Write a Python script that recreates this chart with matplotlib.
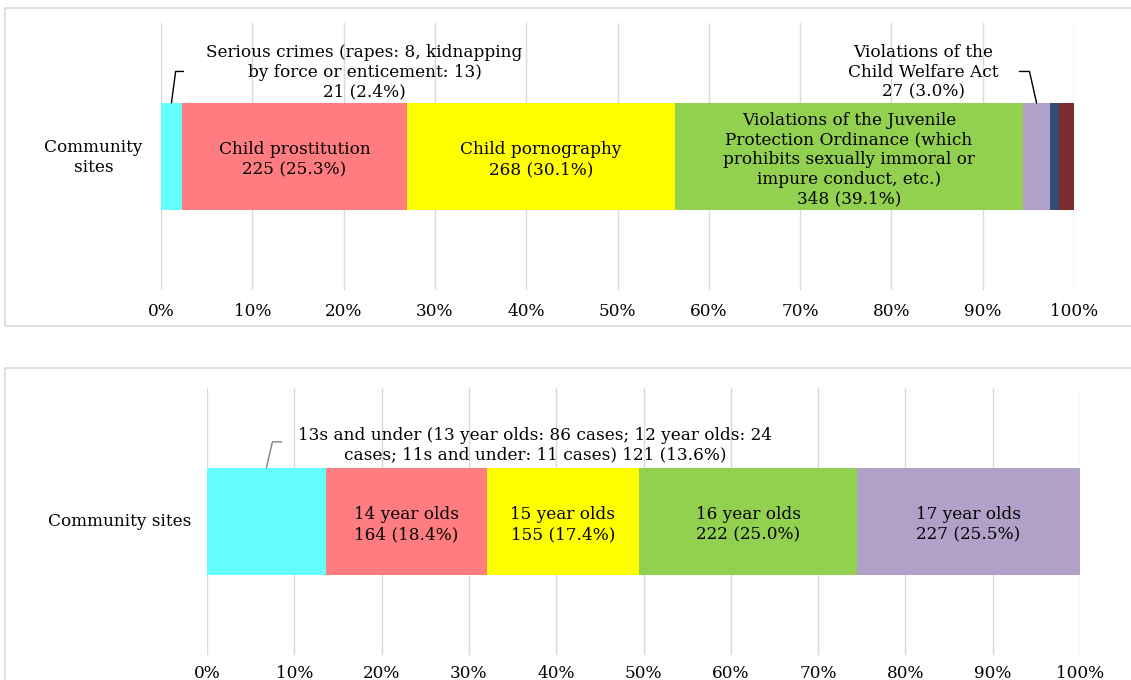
import matplotlib.pyplot as plt
from matplotlib.patches import Rectangle

plt.rcParams['font.family'] = ['DejaVu Serif']

# Top chart: offence types on community sites (counts)
offence_counts = [21, 225, 268, 348, 27, 9, 15]
offence_labels = ['', 'Child prostitution\n225 (25.3%)', 'Child pornography\n268 (30.1%)',
                  'Violations of the Juvenile\nProtection Ordinance (which\nprohibits sexually immoral or\n'
                  'impure conduct, etc.)\n348 (39.1%)', '', '', '']
offence_colors = ['#66FFFF', '#FF7C80', '#FFFF00', '#92D050', '#B1A0C7', '#2E4D77', '#7B2C2C']

# Bottom chart: victim ages
age_counts = [121, 164, 155, 222, 227]
age_labels = ['', '14 year olds\n164 (18.4%)', '15 year olds\n155 (17.4%)',
              '16 year olds\n222 (25.0%)', '17 year olds\n227 (25.5%)']
age_colors = ['#66FFFF', '#FF7C80', '#FFFF00', '#92D050', '#B1A0C7']

ticks = list(range(0, 101, 10))
tick_labels = [f'{t}%' for t in ticks]

W, H = 1131, 680
fig = plt.figure(figsize=(W / 100, H / 100), dpi=100)


def px_axes(x0, y0, x1, y1):
    # pixel box (top-left origin) -> figure axes
    return fig.add_axes([x0 / W, 1 - y1 / H, (x1 - x0) / W, (y1 - y0) / H])


# panel frames
for (x0, y0, x1, y1) in [(5, 8, 1140, 326), (5, 368, 1140, 700)]:
    fig.patches.append(Rectangle((x0 / W, 1 - y1 / H), (x1 - x0) / W, (y1 - y0) / H,
                                 transform=fig.transFigure, fill=False,
                                 edgecolor='#D9D9D9', linewidth=1.2))

FS = 12.2
LS = 1.2


def stacked(ax, counts, labels, colors, pad):
    total = sum(counts)
    pcts = [c / total * 100 for c in counts]
    left = 0
    mids = []
    for p, lab, col in zip(pcts, labels, colors):
        ax.barh(0, p, left=left, height=1.0, color=col, zorder=2)
        if lab:
            ax.text(left + p / 2, -0.03, lab, ha='center', va='center', fontsize=FS,
                    linespacing=LS, zorder=3)
        mids.append(left + p / 2)
        left += p
    ax.set_xlim(0, 100)
    ax.set_ylim(-1.24, 1.24)
    ax.set_xticks(ticks)
    ax.set_xticklabels(tick_labels, fontsize=FS)
    ax.set_yticks([])
    ax.tick_params(axis='x', length=0, pad=pad)
    ax.grid(axis='x', color='#D9D9D9', linewidth=1, zorder=0)
    for s in ax.spines.values():
        s.set_visible(False)
    return mids


ax1 = px_axes(161, 23, 1074, 290)
m1 = stacked(ax1, offence_counts, offence_labels, offence_colors, pad=9)
ax1.text(-7.4, -0.01, 'Community\nsites', ha='center', va='center', fontsize=FS, linespacing=LS)
ax1.text(22.3, 0.78, 'Serious crimes (rapes: 8, kidnapping\nby force or enticement: 13)\n21 (2.4%)',
         ha='center', va='center', fontsize=FS, linespacing=LS)
ax1.plot([m1[0], m1[0] + 0.45, m1[0] + 1.3], [0.5, 0.79, 0.79], color='black', lw=1, clip_on=False, zorder=3)
ax1.text(83.5, 0.78, 'Violations of the\nChild Welfare Act\n27 (3.0%)',
         ha='center', va='center', fontsize=FS, linespacing=LS)
ax1.plot([m1[4], m1[4] - 0.77, m1[4] - 1.86], [0.5, 0.79, 0.79], color='black', lw=1, clip_on=False, zorder=3)

ax2 = px_axes(207, 388, 1080, 655)
m2 = stacked(ax2, age_counts, age_labels, age_colors, pad=7)
ax2.text(-10, 0, 'Community sites', ha='center', va='center', fontsize=FS)
ax2.text(37.6, 0.71, '13s and under (13 year olds: 86 cases; 12 year olds: 24\ncases; 11s and under: 11 cases) 121 (13.6%)',
         ha='center', va='center', fontsize=FS, linespacing=LS)
ax2.plot([m2[0], m2[0] + 0.69, m2[0] + 1.72], [0.5, 0.74, 0.74], color='#808080', lw=1, clip_on=False, zorder=3)

fig.savefig('out.png', dpi=100)
